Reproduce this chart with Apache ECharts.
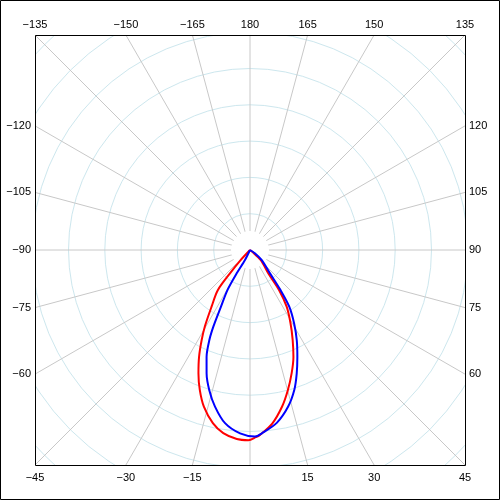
<!DOCTYPE html>
<html>
<head>
<meta charset="utf-8">
<script src="https://cdn.jsdelivr.net/npm/echarts@6/dist/echarts.min.js"></script>
<style>
  html, body { margin: 0; padding: 0; background: #fff; }
  #chart { width: 500px; height: 500px; }
</style>
</head>
<body>
<div id="chart"></div>
<script>
// angles in degrees (0 = down, positive to the right), radius in chart units (one ring = 50)
const redAngles = [-45, -42.9, -40.6, -38.7, -34.2, -30.6, -28.2, -25.5, -22.7, -19.7, -16.4, -12.1, -8.3, -4.0, -0.5,
  1.8, 3.1, 7.3, 11.6, 15.1, 18.7, 22.1, 25.4, 29.0, 32.9, 36.0, 38.1, 46.9, 50]
const redValues = [0, 19, 42, 71, 94, 122, 141, 163, 184, 205, 225, 244, 255, 261, 262,
  258, 255, 241, 220, 200, 179, 159, 137, 115, 93, 68, 41, 20, 0]

const blueAngles = [-28, -26.6, -29.7, -29.4, -27.1, -25.6, -24.3, -22.1, -19.4, -16.2, -12.6, -8.2, -3.1, 1.5,
  3.7, 8.8, 13.7, 17.6, 20.7, 23.9, 27.4, 31.0, 34.7, 37.3, 40.6, 49.5, 56.6, 60]
const blueValues = [0, 15, 37, 63, 88, 116, 136, 159, 180, 201, 221, 241, 253, 257,
  253, 241, 222, 202, 182, 161, 140, 118, 95, 69, 42, 21, 8, 0]

const topLabels = [-135, -150, -165, 180, 165, 150, 135]
const leftLabels = [-120, -105, -90, -75, -60]
const rightLabels = [120, 105, 90, 75, 60]
const bottomLabels = [-45, -30, -15, 15, 30, 45]

const C = 250      // centre
const H = 215      // half size of the square frame
const RING = 36.3  // px per ring

function pairs(angles, values) {
  return angles.map((a, i) => [values[i], a < 0 ? a + 360 : a])
}

function fmt(v) {
  return String(v).replace('-', '\u2212')
}

function edgePoint(a) {
  const rad = a * Math.PI / 180
  const dx = Math.sin(rad), dy = Math.cos(rad)
  const t = H / Math.max(Math.abs(dx), Math.abs(dy))
  return [C + dx * t, C + dy * t]
}

const font = '11px "Liberation Sans", Arial, sans-serif'
const labels = []
topLabels.forEach(v => {
  const p = edgePoint(v)
  labels.push({ type: 'text', z: 20, x: p[0], y: 25, style: { text: fmt(v), font: font, fill: '#000', align: 'center', verticalAlign: 'middle' } })
})
bottomLabels.forEach(v => {
  const p = edgePoint(v)
  labels.push({ type: 'text', z: 20, x: p[0], y: 478, style: { text: fmt(v), font: font, fill: '#000', align: 'center', verticalAlign: 'middle' } })
})
leftLabels.forEach(v => {
  const p = edgePoint(v)
  labels.push({ type: 'text', z: 20, x: 31, y: p[1], style: { text: fmt(v), font: font, fill: '#000', align: 'right', verticalAlign: 'middle' } })
})
rightLabels.forEach(v => {
  const p = edgePoint(v)
  labels.push({ type: 'text', z: 20, x: 469, y: p[1], style: { text: fmt(v), font: font, fill: '#000', align: 'left', verticalAlign: 'middle' } })
})

const white = { fill: '#fff', stroke: null }
const covers = [
  { type: 'rect', z: 10, shape: { x: 0, y: 0, width: 500, height: C - H }, style: white },
  { type: 'rect', z: 10, shape: { x: 0, y: C + H, width: 500, height: 500 - C - H }, style: white },
  { type: 'rect', z: 10, shape: { x: 0, y: 0, width: C - H, height: 500 }, style: white },
  { type: 'rect', z: 10, shape: { x: C + H, y: 0, width: 500 - C - H, height: 500 }, style: white },
  { type: 'rect', z: 11, shape: { x: C - H + 0.5, y: C - H + 0.5, width: 2 * H, height: 2 * H }, style: { fill: null, stroke: '#000', lineWidth: 1 } },
  { type: 'rect', z: 11, shape: { x: 0.5, y: 0.5, width: 499, height: 499 }, style: { fill: null, stroke: '#000', lineWidth: 1 } },
  { type: 'circle', z: 1, shape: { cx: C, cy: C, r: 19 }, style: white }
]

const chart = echarts.init(document.getElementById('chart'))
chart.setOption({
  animation: false,
  backgroundColor: '#fff',
  polar: {
    center: [C, C],
    radius: RING * 9
  },
  angleAxis: {
    type: 'value',
    min: 0,
    max: 360,
    interval: 15,
    startAngle: -90,
    clockwise: false,
    axisLine: { show: false },
    axisTick: { show: false },
    axisLabel: { show: false },
    splitLine: { show: true, lineStyle: { color: '#c8c8c8', width: 1 } }
  },
  radiusAxis: {
    type: 'value',
    min: 0,
    max: 450,
    interval: 50,
    axisLine: { show: false },
    axisTick: { show: false },
    axisLabel: { show: false },
    splitLine: { show: true, lineStyle: { color: '#cde7ee', width: 1 } }
  },
  series: [
    {
      name: 'red',
      type: 'line',
      coordinateSystem: 'polar',
      showSymbol: false,
      smooth: 0.3,
      z: 3,
      lineStyle: { color: '#ff0000', width: 2 },
      data: pairs(redAngles, redValues)
    },
    {
      name: 'blue',
      type: 'line',
      coordinateSystem: 'polar',
      showSymbol: false,
      smooth: 0.3,
      z: 4,
      lineStyle: { color: '#0000ff', width: 2 },
      data: pairs(blueAngles, blueValues)
    }
  ],
  graphic: covers.concat(labels)
})
</script>
</body>
</html>
